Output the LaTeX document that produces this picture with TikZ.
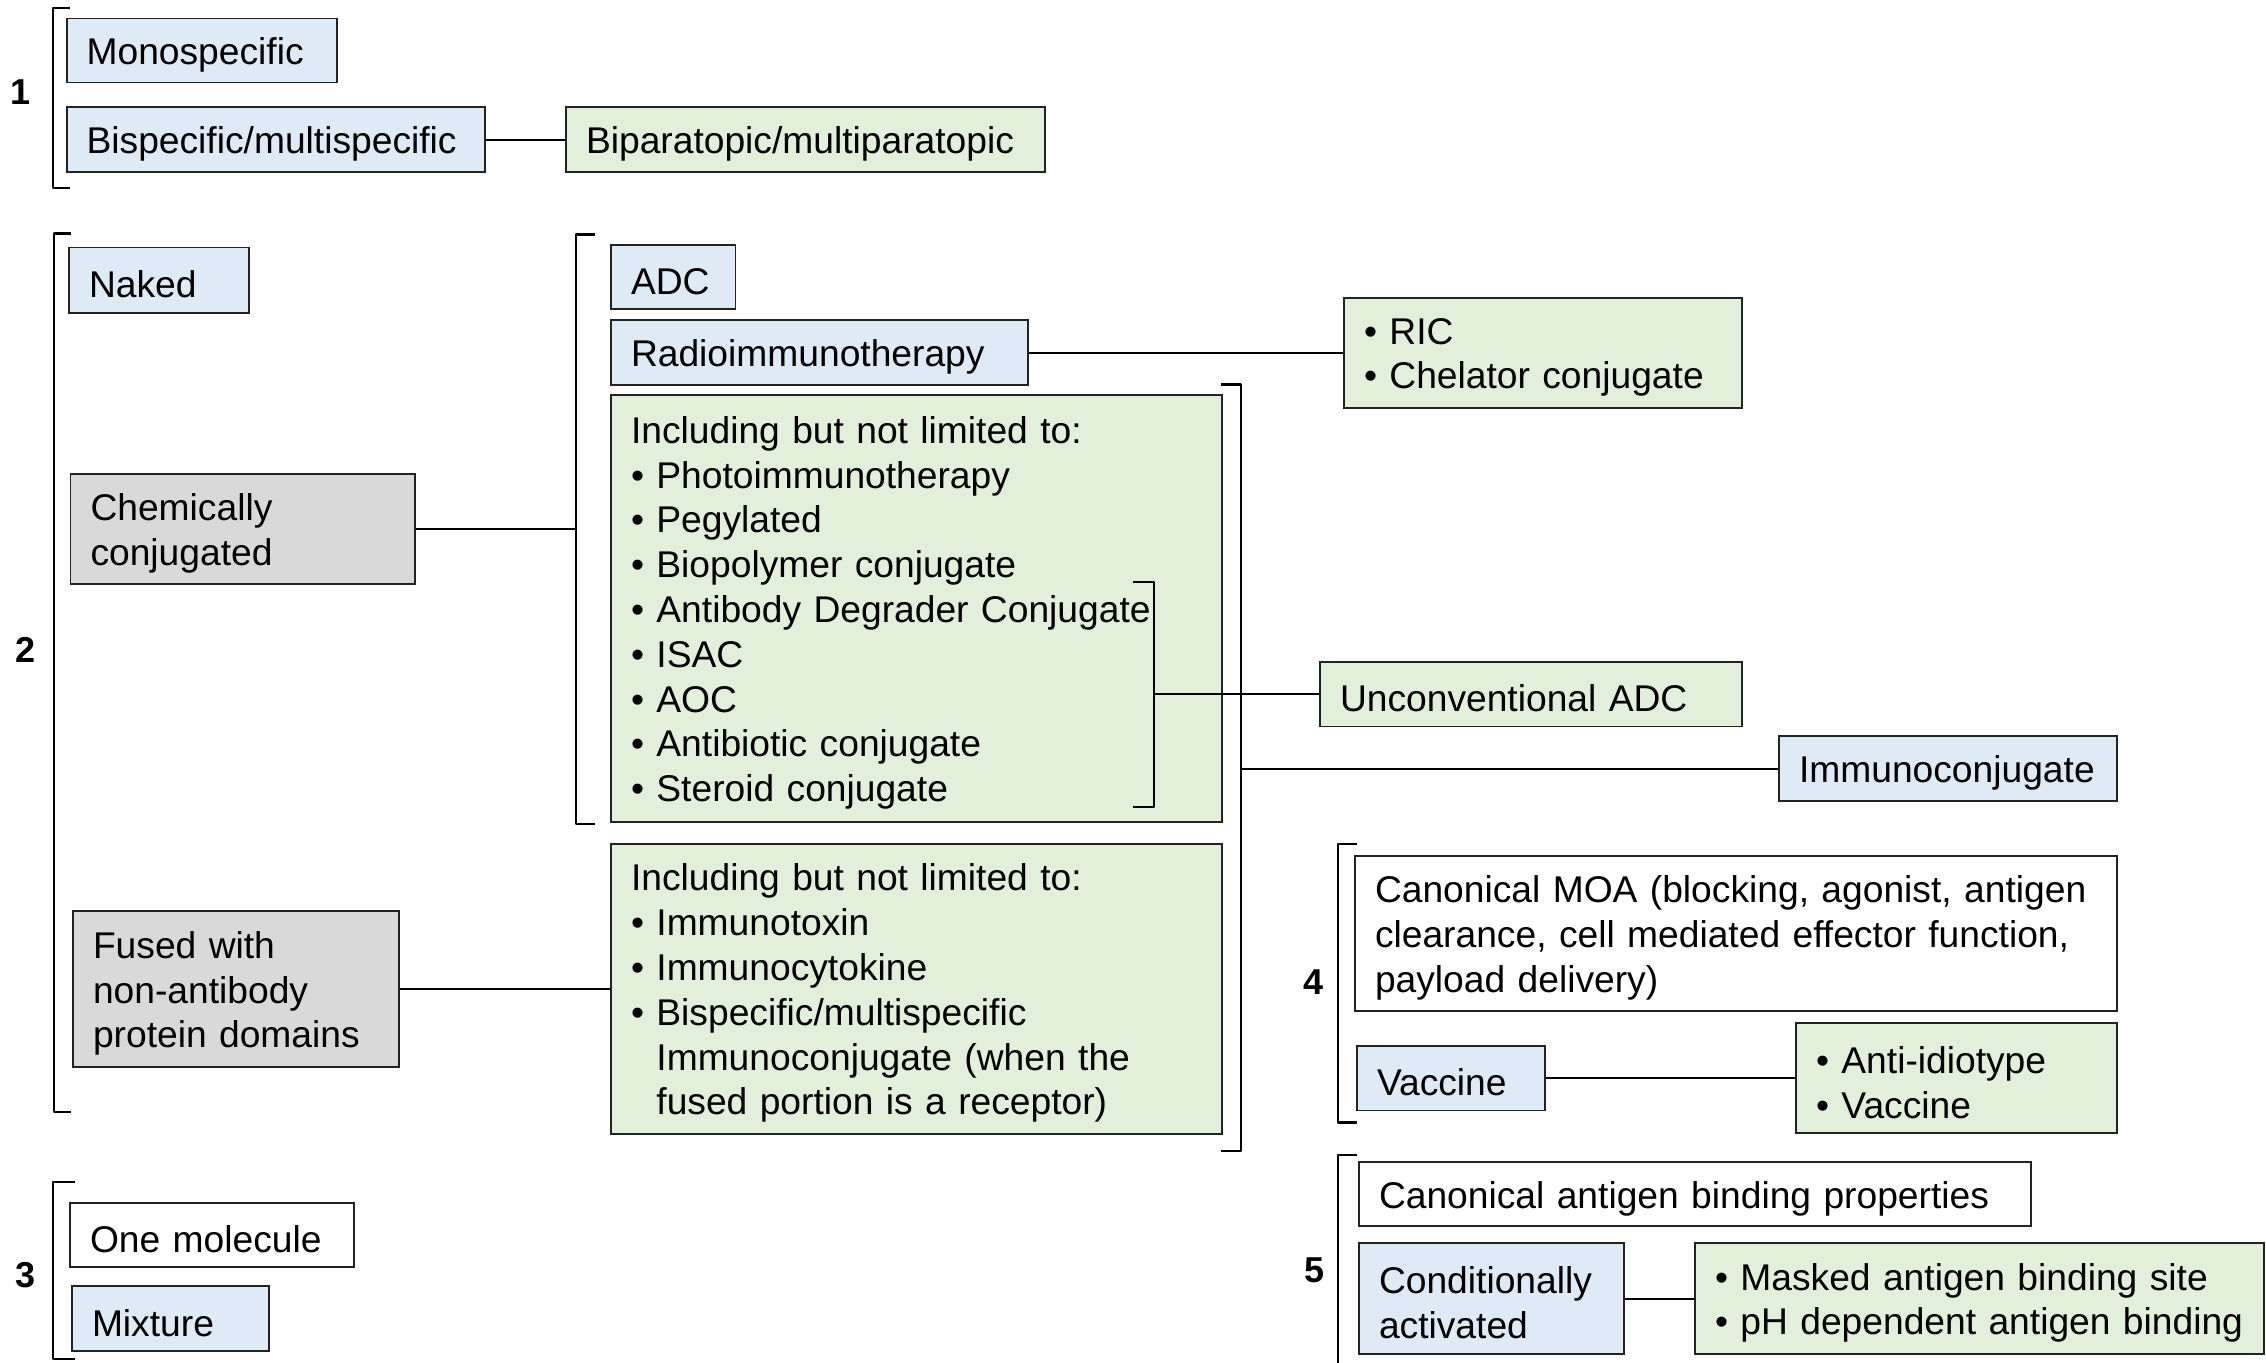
\documentclass[tikz,border=0pt]{standalone}
\usepackage{fontspec}
\setmainfont{Liberation Sans}
\definecolor{bluef}{RGB}{222,234,246}
\definecolor{greenf}{RGB}{226,239,218}
\definecolor{grayf}{RGB}{217,217,217}
\definecolor{edgec}{RGB}{35,35,35}
\newcommand{\mkbox}[7]{%
  \pgfmathsetmacro{\mkw}{(#5-#3)*0.5}%
  \pgfmathsetmacro{\mkh}{(#6-#4)*0.5}%
  \pgfmathsetmacro{\mktw}{(#5-#3)*0.5-20}%
  \node[#2, minimum width=\mkw pt, minimum height=\mkh pt] (#1) at ({(#3+#5)/2},{(#4+#6)/2}) {};
  \node[boxtext, text width=\mktw pt] (#1-t) at ([yshift=-2.2pt]#1.center) {#7};}
\newcommand{\lbrk}[4]{\draw[brk] ({#1+#4},#2) -- (#1,#2) -- (#1,#3) -- ({#1+#4},#3);}
\newcommand{\rbrk}[4]{\draw[brk] ({#1-#4},#2) -- (#1,#2) -- (#1,#3) -- ({#1-#4},#3);}
\tikzset{
  base/.style={draw=edgec, line width=0.9pt, inner sep=0pt, anchor=center},
  boxtext/.style={font=\fontsize{18.6pt}{22.4pt}\selectfont, align=left, inner sep=0pt, anchor=center},
  bluebox/.style={base, fill=bluef},
  greenbox/.style={base, fill=greenf},
  graybox/.style={base, fill=grayf},
  whitebox/.style={base, fill=white},
  conn/.style={line width=1pt, black},
  brk/.style={line width=1.1pt, black, line join=round},
  lbl/.style={font=\fontsize{18pt}{20pt}\selectfont\bfseries, inner sep=0pt}
}
\begin{document}
\begin{tikzpicture}[x=0.5pt, y=-0.5pt]
\useasboundingbox (0,0) rectangle (2266,1362);
\clip (0,0) rectangle (2266,1362);
% group 1
\mkbox{mono}{bluebox}{66.6}{18.5}{336.7}{82.5}{Monospecific}
\mkbox{bisp}{bluebox}{66.6}{107}{485}{172}{Bispecific/multispecific}
\mkbox{bipa}{greenbox}{566}{107}{1045}{172}{Biparatopic/multiparatopic}
% group 2
\mkbox{naked}{bluebox}{69}{247.5}{249}{312.6}{Naked}
\mkbox{chem}{graybox}{70.5}{473.7}{415}{584.3}{Chemically\\conjugated}
\mkbox{fused}{graybox}{73}{911}{399}{1067}{Fused with\\non-antibody\\protein domains}
\mkbox{adc}{bluebox}{611}{245}{735.5}{309}{ADC}
\mkbox{radio}{bluebox}{611}{320}{1028}{385}{Radioimmunotherapy}
\mkbox{ric}{greenbox}{1344}{298}{1742}{408}{• RIC\\• Chelator conjugate}
\mkbox{incl}{greenbox}{611}{395}{1222}{822}{Including but not limited to:\\• Photoimmunotherapy\\• Pegylated\\• Biopolymer conjugate\\• Antibody Degrader Conjugate\\• ISAC\\• AOC\\• Antibiotic conjugate\\• Steroid conjugate}
\mkbox{uadc}{greenbox}{1320}{662}{1742}{726.5}{Unconventional ADC}
\mkbox{imm}{bluebox}{1779}{736}{2117}{801}{Immunoconjugate}
\mkbox{incl2}{greenbox}{611}{843.7}{1222}{1134}{Including but not limited to:\\• Immunotoxin\\• Immunocytokine\\• Bispecific/multispecific\\\phantom{• }Immunoconjugate (when the\\\phantom{• }fused portion is a receptor)}
% group 3
\mkbox{onem}{whitebox}{70}{1203}{354}{1267}{One molecule}
\mkbox{mix}{bluebox}{72}{1286}{269}{1351}{Mixture}
% group 4
\mkbox{moa}{whitebox}{1355}{855.6}{2117}{1011}{Canonical MOA (blocking, agonist, antigen\\clearance, cell mediated effector function,\\payload delivery)}
\mkbox{vacc}{bluebox}{1357}{1045.7}{1545}{1110.4}{Vaccine}
\mkbox{anti}{greenbox}{1796}{1023}{2117}{1133}{• Anti-idiotype\\• Vaccine}
% group 5
\mkbox{canon}{whitebox}{1359}{1162}{2031}{1226}{Canonical antigen binding properties}
\mkbox{cond}{bluebox}{1359}{1243}{1624}{1354}{Conditionally\\activated}
\mkbox{mask}{greenbox}{1695}{1243}{2264}{1354}{• Masked antigen binding site\\• pH dependent antigen binding}
% labels
\node[lbl] (l1) at (21,92) {1};
\node[lbl] (l2) at (26,650) {2};
\node[lbl] (l3) at (26,1275) {3};
\node[lbl] (l4) at (1313,982.5) {4};
\node[lbl] (l5) at (1314,1270) {5};
% brackets
\lbrk{53}{8.3}{188}{17}
\lbrk{54}{233.5}{1112}{17}
\lbrk{576}{234.5}{824}{19}
\lbrk{53}{1182}{1359}{22}
\lbrk{1338}{844}{1122.5}{19}
\lbrk{1338}{1155}{1400}{19}
\rbrk{1241}{384.5}{1151}{20}
\rbrk{1154}{581.7}{807}{21}
\coordinate (b2in) at (576,529);
\coordinate (sbr) at (1154,694.3);
\coordinate (bbr) at (1241,768.5);
% connectors
\draw[conn] (bisp.east) -- (bisp.east -| bipa.west);
\draw[conn] (chem.east) -- (b2in);
\draw[conn] (radio.east) -- (radio.east -| ric.west);
\draw[conn] (fused.east) -- (fused.east -| incl2.west);
\draw[conn] (sbr) -- (sbr -| uadc.west);
\draw[conn] (bbr) -- (bbr -| imm.west);
\draw[conn] (vacc.east) -- (vacc.east -| anti.west);
\draw[conn] (cond.east) -- (cond.east -| mask.west);
\end{tikzpicture}
\end{document}
